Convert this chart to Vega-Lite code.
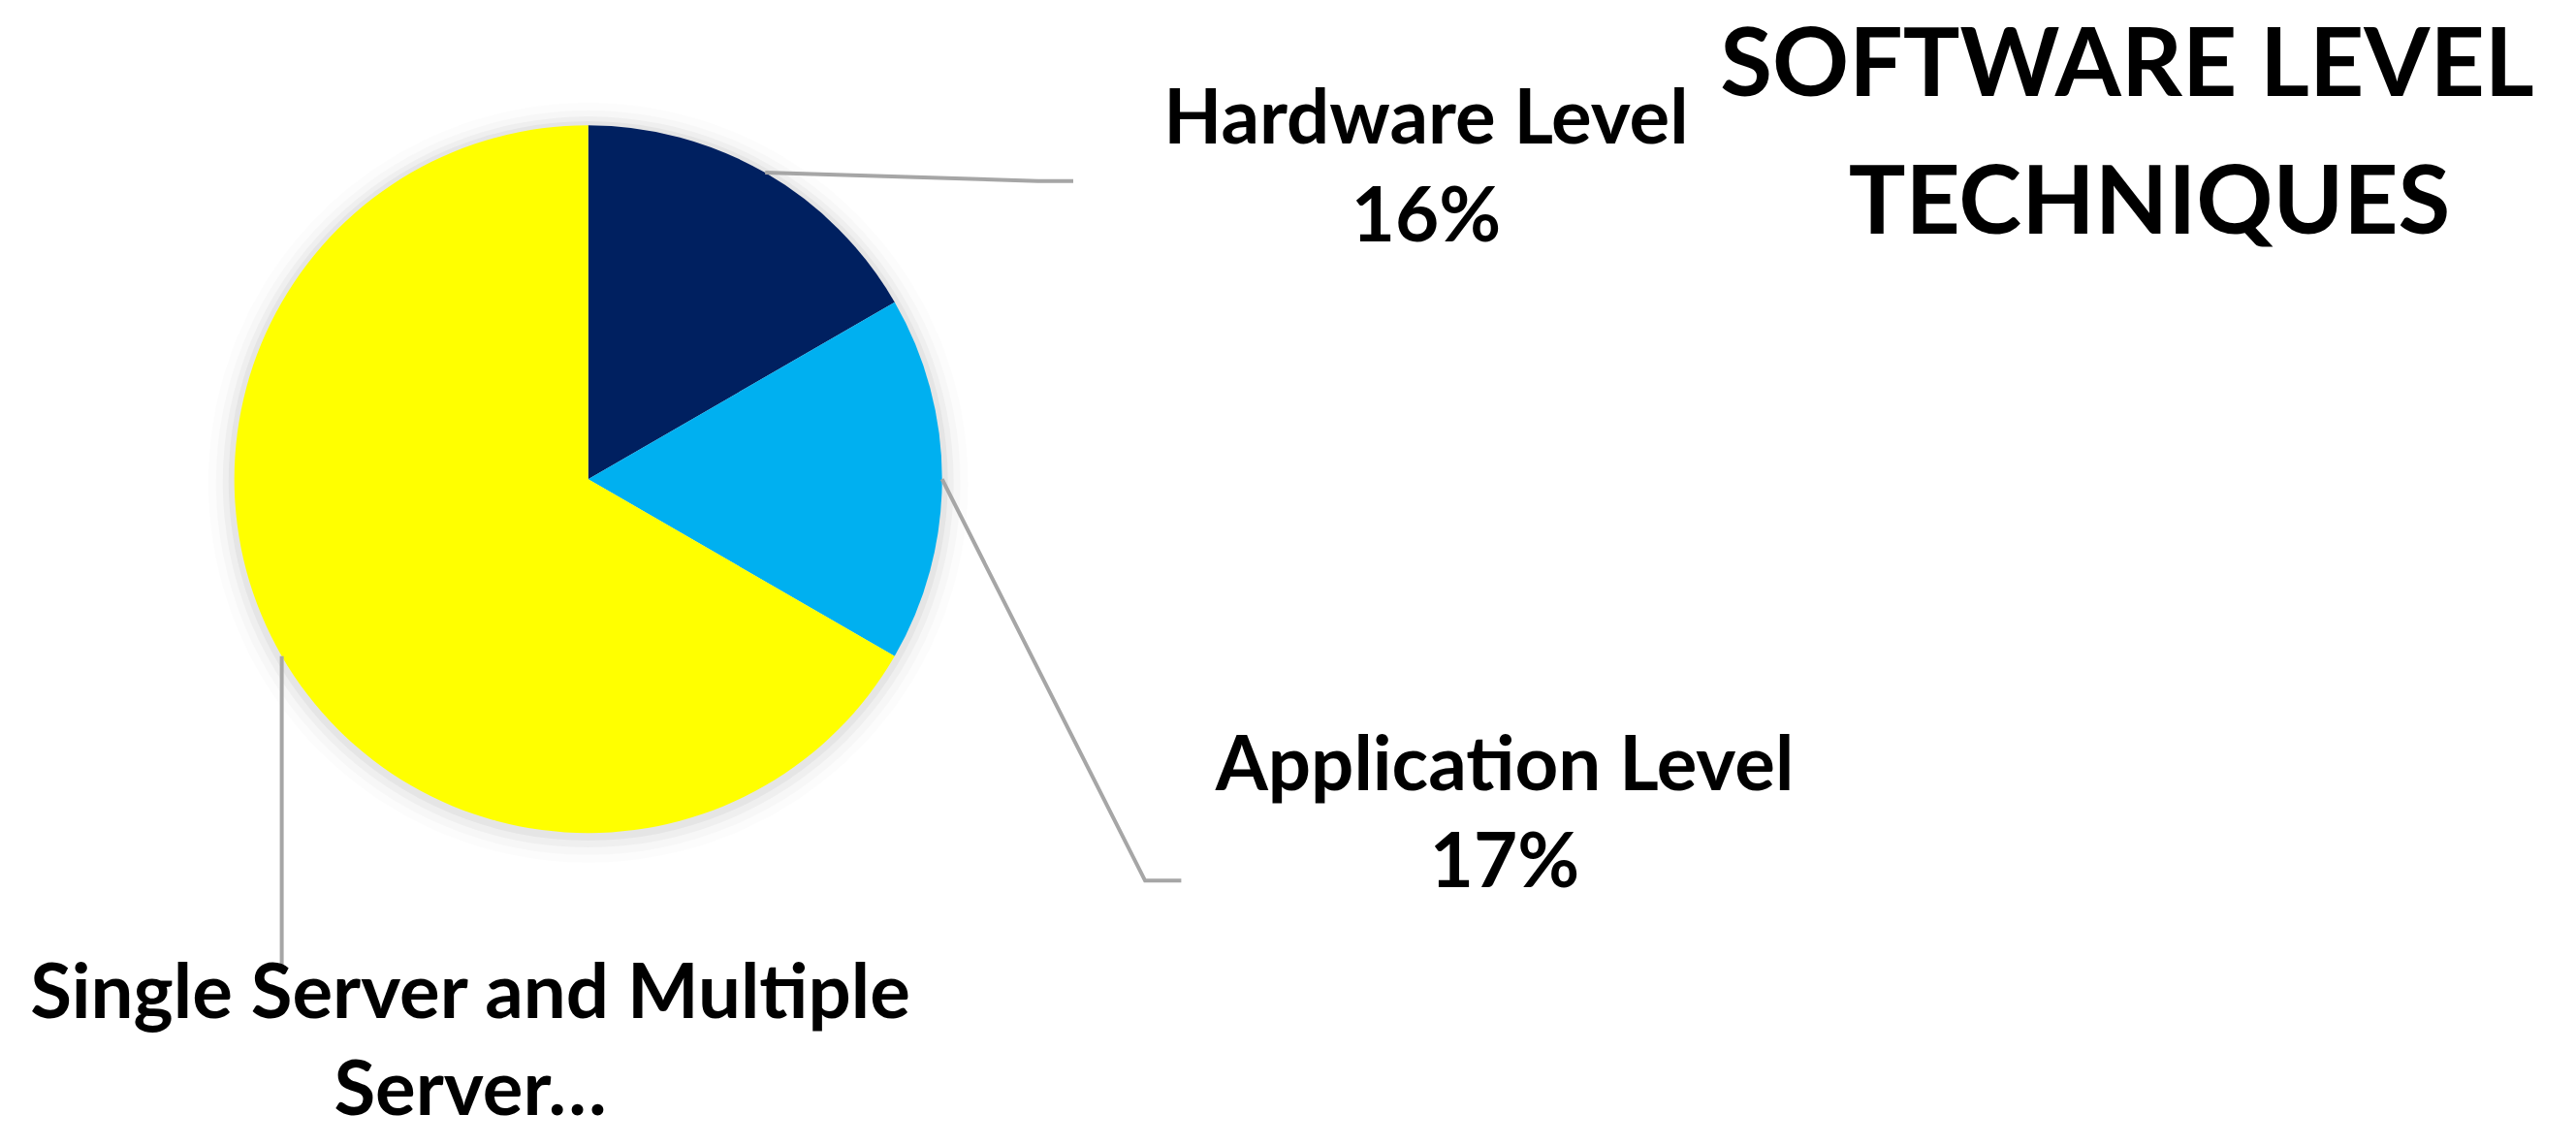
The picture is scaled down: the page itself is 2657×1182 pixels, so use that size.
{
  "$schema": "https://vega.github.io/schema/vega-lite/v6.json",
  "width": 2657,
  "height": 1182,
  "autosize": {"type": "fit", "contains": "padding"},
  "padding": 0,
  "background": "white",
  "config": {"view": {"stroke": null}},
  "datasets": {
    "slices": [
      {"category": "Hardware Level", "value": 16.67, "rank": 1},
      {"category": "Application Level", "value": 16.67, "rank": 2},
      {"category": "Single Server and Multiple Server", "value": 66.67, "rank": 3}
    ],
    "leaders": [
      {"label": "Hardware Level", "pt": 1, "x": 0.5, "y": 0.866},
      {"label": "Hardware Level", "pt": 2, "x": 1.2707, "y": 0.8425},
      {"label": "Hardware Level", "pt": 3, "x": 1.3707, "y": 0.8425},
      {"label": "Application Level", "pt": 1, "x": 1.0, "y": 0.0},
      {"label": "Application Level", "pt": 2, "x": 1.5737, "y": -1.1345},
      {"label": "Application Level", "pt": 3, "x": 1.6759, "y": -1.1345},
      {"label": "Single Server", "pt": 1, "x": -0.866, "y": -0.5},
      {"label": "Single Server", "pt": 2, "x": -0.866, "y": -1.3912}
    ],
    "labels": [
      {"text": "Hardware Level", "x": 2.3679, "y": 0.9485},
      {"text": "16%", "x": 2.3679, "y": 0.6718},
      {"text": "Application Level", "x": 2.5899, "y": -0.8789},
      {"text": "17%", "x": 2.5899, "y": -1.1529},
      {"text": "Single Server and Multiple", "x": -0.3334, "y": -1.5227},
      {"text": "Server…", "x": -0.3334, "y": -1.7967}
    ],
    "title": [
      {"text": "SOFTWARE LEVEL", "x": 4.3488, "y": 1.0827},
      {"text": "TECHNIQUES", "x": 4.4118, "y": 0.6937}
    ]
  },
  "layer": [
    {
      "data": {"name": "slices"},
      "transform": [{"aggregate": [{"op": "count", "as": "n"}]}],
      "mark": {"type": "arc", "theta": 0, "theta2": 6.2832, "radius": 392, "fill": "#000000", "opacity": 0.012},
      "encoding": {
        "x": {"datum": 0, "type": "quantitative", "scale": {"domain": [-1.6622, 5.6173], "nice": false, "zero": false}, "axis": null},
        "y": {"datum": -0.01, "type": "quantitative", "scale": {"domain": [-1.8844, 1.354], "nice": false, "zero": false}, "axis": null}
      }
    },
    {
      "data": {"name": "slices"},
      "transform": [{"aggregate": [{"op": "count", "as": "n"}]}],
      "mark": {"type": "arc", "theta": 0, "theta2": 6.2832, "radius": 384, "fill": "#000000", "opacity": 0.02},
      "encoding": {
        "x": {"datum": 0, "type": "quantitative", "axis": null},
        "y": {"datum": -0.01, "type": "quantitative", "axis": null}
      }
    },
    {
      "data": {"name": "slices"},
      "transform": [{"aggregate": [{"op": "count", "as": "n"}]}],
      "mark": {"type": "arc", "theta": 0, "theta2": 6.2832, "radius": 377, "fill": "#000000", "opacity": 0.03},
      "encoding": {
        "x": {"datum": 0, "type": "quantitative", "axis": null},
        "y": {"datum": -0.008, "type": "quantitative", "axis": null}
      }
    },
    {
      "data": {"name": "slices"},
      "transform": [{"aggregate": [{"op": "count", "as": "n"}]}],
      "mark": {"type": "arc", "theta": 0, "theta2": 6.2832, "radius": 371, "fill": "#000000", "opacity": 0.04},
      "encoding": {
        "x": {"datum": 0, "type": "quantitative", "axis": null},
        "y": {"datum": -0.005, "type": "quantitative", "axis": null}
      }
    },
    {
      "data": {"name": "slices"},
      "mark": {"type": "arc", "radius": 365},
      "encoding": {
        "x": {"datum": 0, "type": "quantitative", "axis": null},
        "y": {"datum": 0, "type": "quantitative", "axis": null},
        "theta": {"field": "value", "type": "quantitative", "stack": true},
        "order": {"field": "rank", "type": "quantitative"},
        "color": {
          "field": "category",
          "type": "nominal",
          "scale": {
            "domain": ["Hardware Level", "Application Level", "Single Server and Multiple Server"],
            "range": ["#002060", "#00B0F0", "#FFFF00"]
          },
          "legend": null
        }
      }
    },
    {
      "data": {"name": "leaders"},
      "mark": {"type": "line", "color": "#A6A6A6", "strokeWidth": 4, "strokeCap": "butt", "strokeJoin": "miter"},
      "encoding": {
        "x": {"field": "x", "type": "quantitative", "axis": null},
        "y": {"field": "y", "type": "quantitative", "axis": null},
        "detail": {"field": "label"},
        "order": {"field": "pt", "type": "quantitative"}
      }
    },
    {
      "data": {"name": "labels"},
      "mark": {"type": "text", "font": "Lato", "fontWeight": "bold", "fontSize": 78, "align": "center", "baseline": "alphabetic", "color": "#000000"},
      "encoding": {
        "x": {"field": "x", "type": "quantitative", "axis": null},
        "y": {"field": "y", "type": "quantitative", "axis": null},
        "text": {"field": "text"}
      }
    },
    {
      "data": {"name": "title"},
      "mark": {"type": "text", "font": "Lato", "fontWeight": "bold", "fontSize": 98, "align": "center", "baseline": "alphabetic", "color": "#000000"},
      "encoding": {
        "x": {"field": "x", "type": "quantitative", "axis": null},
        "y": {"field": "y", "type": "quantitative", "axis": null},
        "text": {"field": "text"}
      }
    }
  ]
}
